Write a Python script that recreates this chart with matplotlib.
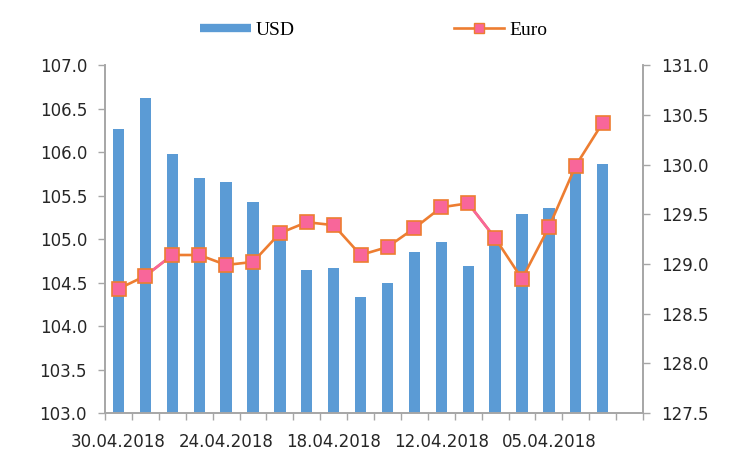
import matplotlib
matplotlib.use("Agg")
import matplotlib.pyplot as plt
from matplotlib.lines import Line2D
import numpy as np

# daily rates, newest first (last category slot is left empty)
dates = ["30.04.2018", "27.04.2018", "26.04.2018", "25.04.2018", "24.04.2018",
         "21.04.2018", "20.04.2018", "19.04.2018", "18.04.2018", "17.04.2018",
         "14.04.2018", "13.04.2018", "12.04.2018", "11.04.2018", "10.04.2018",
         "07.04.2018", "05.04.2018", "04.04.2018", "03.04.2018", ""]
usd = [106.27, 106.62, 105.98, 105.70, 105.66, 105.43, 105.05, 104.64, 104.67, 104.33,
       104.49, 104.85, 104.97, 104.69, 104.97, 105.29, 105.36, 105.79, 105.86]
euro = [128.75, 128.88, 129.09, 129.09, 128.99, 129.02, 129.31, 129.42, 129.39, 129.09,
        129.17, 129.36, 129.57, 129.61, 129.26, 128.85, 129.37, 129.99, 130.42]
left_ticks = [103.0, 103.5, 104.0, 104.5, 105.0, 105.5, 106.0, 106.5, 107.0]
right_ticks = [127.5, 128.0, 128.5, 129.0, 129.5, 130.0, 130.5, 131.0]

bar_color = "#5B9BD5"
line_color = "#ED7D31"
marker_fill = "#F8669A"
axis_gray = "#A6A6A6"

fig = plt.figure(figsize=(7.4, 4.49), dpi=100)
ax = fig.add_axes([0.142, 0.080, 0.727, 0.775])
ax2 = ax.twinx()

x = np.arange(len(usd))
ax.bar(x, usd, width=0.42, color=bar_color, bottom=0, zorder=2)
ax.set_ylim(103.0, 107.0)
ax.set_xlim(-0.5, len(dates) - 0.5)

ax2.plot(x, euro, color=line_color, lw=1.9, zorder=3)
# two segments drawn in pink, as in the original
for i in [1, 13]:
    ax2.plot(x[i:i + 2], euro[i:i + 2], color=marker_fill, lw=1.9, zorder=3)
ax2.plot(x, euro, ls="none", marker="s", ms=10, mfc=marker_fill, mec=line_color,
         mew=1.2, zorder=4)
ax2.set_ylim(127.5, 131.0)

ax.set_yticks(left_ticks)
ax.set_yticklabels([f"{v:.1f}" for v in left_ticks])
ax2.set_yticks(right_ticks)
ax2.set_yticklabels([f"{v:.1f}" for v in right_ticks])

ax.set_xticks(x[::4])
ax.set_xticklabels([dates[i] for i in x[::4]])
ax.set_xticks(np.arange(-0.5, len(dates)), minor=True)
ax.tick_params(axis="x", which="major", length=0, pad=14)
ax.tick_params(axis="x", which="minor", length=5, color=axis_gray, width=1)

for a in (ax, ax2):
    for s in a.spines.values():
        s.set_color(axis_gray)
        s.set_linewidth(1.2)
    a.spines["top"].set_visible(False)
    a.tick_params(axis="y", length=5, color=axis_gray, width=1, labelsize=12,
                  labelcolor="#262626")
ax.tick_params(axis="x", labelsize=12, labelcolor="#262626")
ax.tick_params(axis="y", pad=8)
ax2.tick_params(axis="y", pad=8)

handles = [Line2D([], [], color=bar_color, lw=6, solid_capstyle="butt"),
           Line2D([], [], color=line_color, lw=1.9, marker="s", ms=7,
                  mfc=marker_fill, mec=line_color)]
fig.legend(handles, ["USD", "Euro"], loc="center", bbox_to_anchor=(0.505, 0.933),
           ncol=2, frameon=False, handlelength=2.6, columnspacing=8.2,
           handletextpad=0.25, prop={"family": "Liberation Serif", "size": 14})

fig.savefig("out.png", dpi=100)
